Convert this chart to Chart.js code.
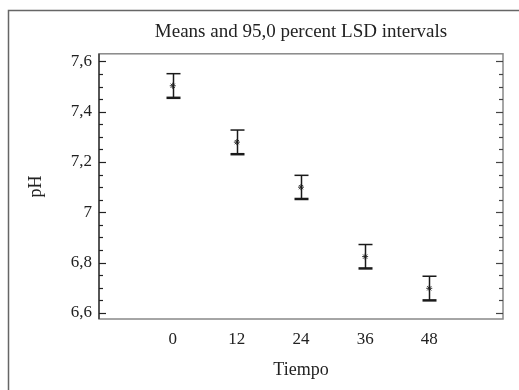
<!DOCTYPE html>
<html><head><meta charset="utf-8">
<script src="https://cdn.jsdelivr.net/npm/chart.js@4/dist/chart.umd.min.js"></script>
<style>html,body{margin:0;padding:0;background:#fff}#wrap{width:519px;height:390px;position:relative}</style>
</head><body><div id="wrap"><canvas id="c" width="519" height="390"></canvas></div>
<script>
// Data
const tiempo = [0, 12, 24, 36, 48];
const means  = [7.503, 7.279, 7.100, 6.824, 6.698];
const lower  = [7.455, 7.231, 7.053, 6.777, 6.650];
const upper  = [7.551, 7.327, 7.147, 6.872, 6.746];
const yMajorTicks = [6.6, 6.8, 7.0, 7.2, 7.4, 7.6];
const yMinorStep = 0.05;

const fontFam = "'Liberation Serif', 'DejaVu Serif', serif";
Chart.defaults.font.family = fontFam;
Chart.defaults.color = '#222';

const fmt = v => String(+(+v).toFixed(2)).replace('.', ',');

const framePlugin = {
  id: 'frame',
  afterLayout(chart) {
    if (chart.titleBlock) {
      chart.titleBlock.left = chart.chartArea.left;
      chart.titleBlock.right = chart.chartArea.right;
    }
  },
  beforeDraw(chart) {
    const ctx = chart.ctx;
    ctx.save();
    ctx.strokeStyle = '#666';
    ctx.lineWidth = 1.5;
    ctx.strokeRect(8.5, 10.5, 700, 600);
    ctx.restore();
  },
  afterDraw(chart) {
    const ctx = chart.ctx, a = chart.chartArea, ys = chart.scales.y;
    ctx.save();
    // plot frame
    ctx.strokeStyle = '#888';
    ctx.lineWidth = 1.5;
    ctx.strokeRect(a.left, a.top, a.right - a.left, a.bottom - a.top);
    ctx.strokeStyle = '#222';
    ctx.lineWidth = 1.2;
    ctx.beginPath(); ctx.moveTo(a.left, a.top); ctx.lineTo(a.left, a.bottom); ctx.stroke();
    // ticks
    const n = Math.round((yMajorTicks[yMajorTicks.length-1] - yMajorTicks[0]) / yMinorStep);
    ctx.lineWidth = 1.2;
    for (let i = 0; i <= n; i++) {
      const v = yMajorTicks[0] + i * yMinorStep;
      const y = Math.round(ys.getPixelForValue(v)) + 0.5;
      const len = (i % 4 === 0) ? 7 : 4;
      ctx.strokeStyle = '#222';
      ctx.beginPath(); ctx.moveTo(a.left, y); ctx.lineTo(a.left + len, y); ctx.stroke();
      ctx.strokeStyle = '#444';
      ctx.beginPath(); ctx.moveTo(a.right, y); ctx.lineTo(a.right - len, y); ctx.stroke();
    }
    ctx.restore();
  },
  afterDatasetsDraw(chart) {
    const ctx = chart.ctx, xs = chart.scales.x, ys = chart.scales.y;
    ctx.save();
    ctx.strokeStyle = '#1a1a1a';
    for (let i = 0; i < tiempo.length; i++) {
      const x = Math.round(xs.getPixelForValue(tiempo[i])) + 0.5;
      const yU = ys.getPixelForValue(upper[i]);
      const yL = ys.getPixelForValue(lower[i]);
      ctx.lineWidth = 1.5;
      ctx.beginPath(); ctx.moveTo(x, yU); ctx.lineTo(x, yL); ctx.stroke();
      ctx.beginPath(); ctx.moveTo(x - 7, yU); ctx.lineTo(x + 7, yU); ctx.stroke();
      ctx.lineWidth = 2.5;
      ctx.beginPath(); ctx.moveTo(x - 7, yL); ctx.lineTo(x + 7, yL); ctx.stroke();
    }
    ctx.restore();
  }
};

new Chart(document.getElementById('c'), {
  type: 'scatter',
  data: {
    datasets: [{
      data: tiempo.map((t, i) => ({ x: t, y: means[i] })),
      pointStyle: 'star',
      radius: 3,
      borderColor: '#333',
      backgroundColor: '#333',
      borderWidth: 1
    }]
  },
  options: {
    responsive: false,
    animation: false,
    layout: { padding: { left: 0, right: 16, top: 0, bottom: 0 } },
    plugins: {
      legend: { display: false },
      tooltip: { enabled: false },
      title: {
        display: true,
        text: 'Means and 95,0 percent LSD intervals',
        color: '#222',
        font: { family: fontFam, size: 19, weight: 'normal' },
        padding: { top: 21, bottom: 10 }
      }
    },
    scales: {
      x: {
        type: 'linear',
        min: -13.8, max: 61.8,
        afterBuildTicks: s => { s.ticks = tiempo.map(v => ({ value: v })); },
        afterFit: s => { s.height = 71; },
        grid: { display: false, drawTicks: false },
        border: { display: false },
        ticks: { padding: 10, font: { size: 17 }, color: '#222', callback: v => String(v) },
        title: { display: true, text: 'Tiempo', color: '#222', font: { size: 18 }, padding: { top: 0, bottom: 9 } }
      },
      y: {
        type: 'linear',
        min: 6.576, max: 7.63,
        afterBuildTicks: s => { s.ticks = yMajorTicks.map(v => ({ value: v })); },
        afterFit: s => { s.width = 99; },
        grid: { display: false, drawTicks: false },
        border: { display: false },
        ticks: { padding: 7, font: { size: 17 }, color: '#222', callback: v => fmt(v) },
        title: { display: true, text: 'pH', color: '#222', font: { size: 18 }, padding: { top: 25, bottom: 0 } }
      }
    }
  },
  plugins: [framePlugin]
});
</script>
</body></html>
